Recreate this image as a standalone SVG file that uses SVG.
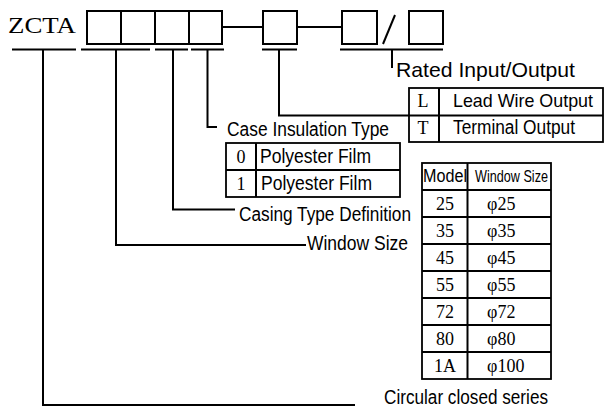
<svg xmlns="http://www.w3.org/2000/svg" width="604" height="409" viewBox="0 0 604 409">
<style>
.bx{fill:none;stroke:#000;stroke-width:2}
.tb{fill:#fff;stroke:#000;stroke-width:1.8}
.ln{fill:none;stroke:#000;stroke-width:2}
.sf{font-family:"Liberation Serif","Times New Roman",serif;fill:#000}
.ss{font-family:"Liberation Sans",Arial,sans-serif;fill:#000}
</style>
<rect width="604" height="409" fill="#fff"/>

<g id="code">
<text class="sf" x="8" y="33" font-size="24" textLength="68" lengthAdjust="spacingAndGlyphs">ZCTA</text>
<rect class="bx" x="87" y="11" width="135" height="33"/>
<line class="ln" x1="121" y1="11" x2="121" y2="44"/>
<line class="ln" x1="155" y1="11" x2="155" y2="44"/>
<line class="ln" x1="189" y1="11" x2="189" y2="44"/>
<line class="ln" x1="222" y1="27" x2="263" y2="27"/>
<rect class="bx" x="263" y="11" width="34" height="33"/>
<line class="ln" x1="297" y1="27" x2="342" y2="27"/>
<rect class="bx" x="342" y="11" width="35" height="33"/>
<line class="ln" x1="383" y1="44" x2="395" y2="15"/>
<rect class="bx" x="409" y="11" width="34" height="33"/>
</g>

<g id="connectors">
<line class="ln" x1="12" y1="49.5" x2="76" y2="49.5"/>
<line class="ln" x1="81" y1="49.5" x2="150" y2="49.5"/>
<line class="ln" x1="155" y1="49.5" x2="188" y2="49.5"/>
<line class="ln" x1="191" y1="49.5" x2="224" y2="49.5"/>
<line class="ln" x1="262" y1="49.5" x2="297" y2="49.5"/>
<line class="ln" x1="340" y1="49.5" x2="443" y2="49.5"/>
<polyline class="ln" points="392,49.5 392,68"/>
<polyline class="ln" points="279,49.5 279,115.5 409,115.5"/>
<polyline class="ln" points="207.5,49.5 207.5,127 217,127"/>
<polyline class="ln" points="173,49.5 173,209.5 235,209.5"/>
<polyline class="ln" points="116,49.5 116,245 306,245"/>
<polyline class="ln" points="43,49.5 43,405 355,405"/>
</g>

<g id="rated">
<text class="ss" x="396" y="77" font-size="21" textLength="179" lengthAdjust="spacingAndGlyphs">Rated Input/Output</text>
</g>

<g id="output-table">
<rect class="tb" x="409" y="88" width="194" height="54"/>
<line class="ln" x1="409" y1="115.5" x2="603" y2="115.5"/>
<line class="ln" x1="439" y1="88" x2="439" y2="142"/>
<text class="sf" x="423" y="107" font-size="18" text-anchor="middle">L</text>
<text class="ss" x="453" y="107" font-size="18.5" textLength="140" lengthAdjust="spacingAndGlyphs">Lead Wire Output</text>
<text class="sf" x="423" y="134" font-size="18" text-anchor="middle">T</text>
<text class="ss" x="453" y="134" font-size="19.5" textLength="122" lengthAdjust="spacingAndGlyphs">Terminal Output</text>
</g>

<g id="case-insulation">
<text class="ss" x="227" y="136" font-size="20" textLength="162" lengthAdjust="spacingAndGlyphs">Case Insulation Type</text>
<rect class="tb" x="226" y="143" width="174" height="54"/>
<line class="ln" x1="226" y1="170" x2="400" y2="170"/>
<line class="ln" x1="256" y1="143" x2="256" y2="197"/>
<text class="sf" x="241" y="163" font-size="18" text-anchor="middle">0</text>
<text class="ss" x="260" y="163" font-size="20" textLength="111" lengthAdjust="spacingAndGlyphs">Polyester Film</text>
<text class="sf" x="241" y="190" font-size="18" text-anchor="middle">1</text>
<text class="ss" x="261" y="190" font-size="20" textLength="111" lengthAdjust="spacingAndGlyphs">Polyester Film</text>
</g>

<g id="casing-type">
<text class="ss" x="239" y="221" font-size="20" textLength="172" lengthAdjust="spacingAndGlyphs">Casing Type Definition</text>
</g>

<g id="window-size">
<text class="ss" x="307" y="250" font-size="20" textLength="101" lengthAdjust="spacingAndGlyphs">Window Size</text>
</g>

<g id="model-table">
<rect class="tb" x="422" y="163" width="129" height="216"/>
<line class="ln" x1="467.5" y1="163" x2="467.5" y2="379"/>
<line class="ln" x1="422" y1="190" x2="551" y2="190"/>
<line class="ln" x1="422" y1="217" x2="551" y2="217"/>
<line class="ln" x1="422" y1="244" x2="551" y2="244"/>
<line class="ln" x1="422" y1="271" x2="551" y2="271"/>
<line class="ln" x1="422" y1="298" x2="551" y2="298"/>
<line class="ln" x1="422" y1="325" x2="551" y2="325"/>
<line class="ln" x1="422" y1="352" x2="551" y2="352"/>
<text class="ss" x="423" y="182" font-size="18" textLength="44" lengthAdjust="spacingAndGlyphs">Model</text>
<text class="ss" x="475" y="182" font-size="17" textLength="73" lengthAdjust="spacingAndGlyphs">Window Size</text>
<g class="sf" font-size="18" text-anchor="middle">
<text x="445" y="210">25</text>
<text x="445" y="237">35</text>
<text x="445" y="264">45</text>
<text x="445" y="291">55</text>
<text x="445" y="318">72</text>
<text x="445" y="345">80</text>
<text x="445" y="372">1A</text>
</g>
<g class="sf" font-size="18">
<text x="487" y="210">φ25</text>
<text x="487" y="237">φ35</text>
<text x="487" y="264">φ45</text>
<text x="487" y="291">φ55</text>
<text x="487" y="318">φ72</text>
<text x="487" y="345">φ80</text>
<text x="487" y="372">φ100</text>
</g>
</g>

<g id="series">
<text class="ss" x="384" y="404" font-size="20" textLength="164" lengthAdjust="spacingAndGlyphs">Circular closed series</text>
</g>
</svg>
